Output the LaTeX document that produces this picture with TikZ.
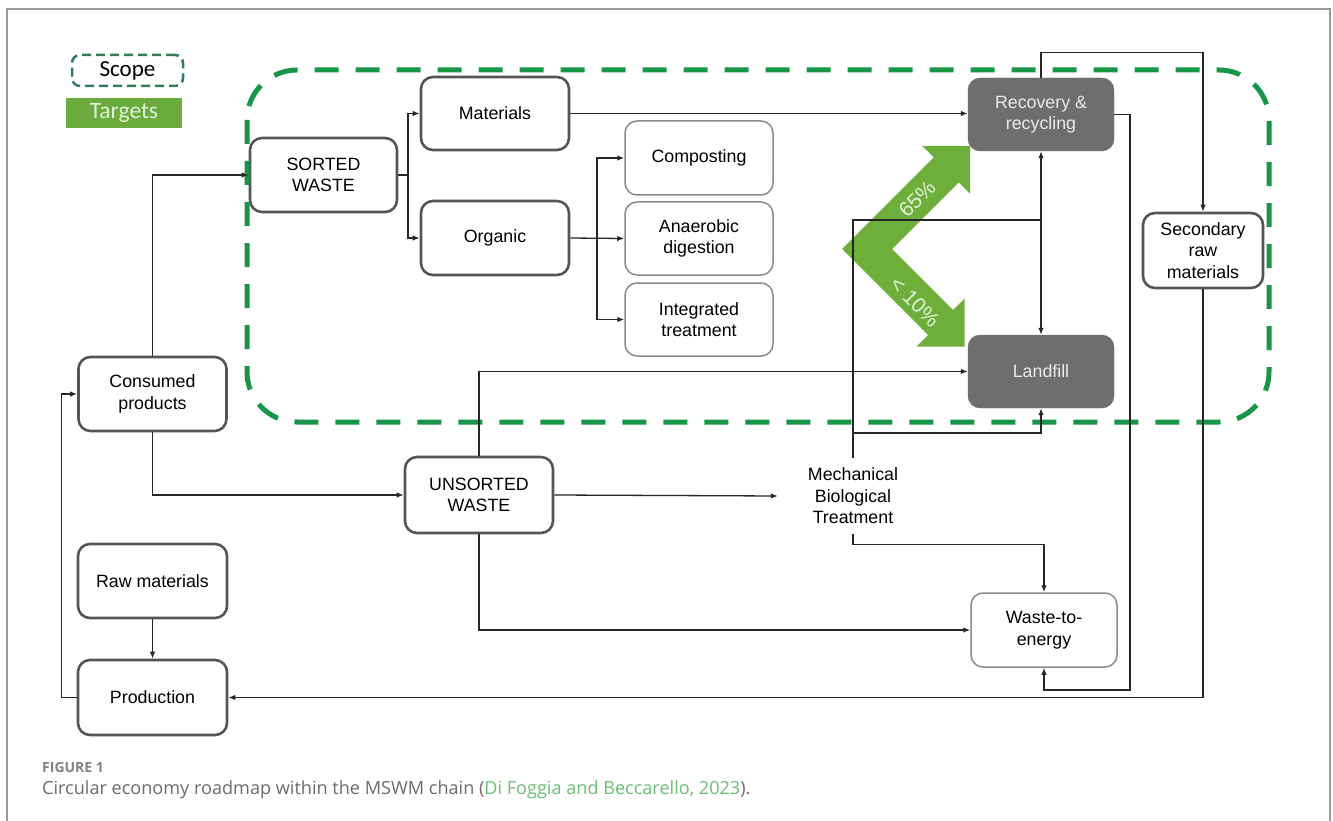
\documentclass[tikz,border=0pt]{standalone}
\usepackage{fontspec}
\setmainfont{Liberation Sans}
\newfontfamily\legendfont{Carlito}
\newfontfamily\capfont{Open Sans}
\usetikzlibrary{arrows.meta,calc}
\definecolor{boxline}{HTML}{555555}
\definecolor{thinline}{HTML}{8A8A8A}
\definecolor{darkfill}{HTML}{6E6E6E}
\definecolor{scopegreen}{RGB}{22,150,70}
\definecolor{legendgreen}{RGB}{50,125,85}
\definecolor{targetgreen}{RGB}{108,172,62}
\definecolor{chevgreen}{RGB}{110,175,60}
\definecolor{chevtext}{RGB}{225,240,215}
\definecolor{linkgreen}{RGB}{108,190,112}
\definecolor{framegray}{HTML}{9A9A9A}
\definecolor{capgray}{HTML}{6B6B6B}
\begin{document}
\begin{tikzpicture}[x=1pt,y=-1pt,
  font=\fontsize{17.8}{21.5}\selectfont,
  thickbox/.style={draw=boxline, line width=2.6pt, rounded corners=12pt, fill=white, align=center, inner sep=0pt},
  thinbox/.style={draw=thinline, line width=1.5pt, rounded corners=12pt, fill=white, align=center, inner sep=0pt},
  darkbox/.style={fill=darkfill, draw=darkfill, rounded corners=12pt, text=black!8, align=center, inner sep=0pt},
  link/.style={draw=black!85, line width=1.3pt, -{Latex[length=7pt,width=5.5pt]}},
  plain/.style={draw=black!85, line width=1.3pt},
  pct/.style={text=chevtext, inner sep=0pt, font=\fontsize{21}{22}\selectfont},
]
\useasboundingbox (0,0) rectangle (1333,821);
\fill[white] (0,0) rectangle (1333,821);
% frame
\draw[framegray, line width=1.5pt] (7,821) -- (7,9) -- (1330,9) -- (1330,821);

% legend
\node[draw=legendgreen, dash pattern=on 9pt off 5pt, line width=2.5pt, rounded corners=8pt,
      minimum width=111pt, minimum height=31pt, inner sep=0pt,
      font=\legendfont\fontsize{23}{26}\selectfont] (scope) at (127.5,70.5) {Scope};
\node[fill=targetgreen, minimum width=116pt, minimum height=30pt, inner sep=0pt, text=chevtext,
      font=\legendfont\fontsize{23.5}{26}\selectfont] (targets) at (124,113) {Targets};

% green chevron (targets)
\fill[chevgreen] (842,249) -- (933.7,157.3) -- (922.2,145.8) -- (970.2,145.8) -- (970.2,193.8)
  -- (958.7,182.3) -- (892,249) -- (953,310) -- (964.5,298.5) -- (964.6,346.6)
  -- (916.5,346.5) -- (928,335) -- cycle;
\node[pct, rotate=45] (p65) at (917,199) {65\%};
\node[pct, rotate=-45] (p10) at (915,302) {<~10\%};

% boxes
\node[thickbox, minimum width=147pt, minimum height=74pt] (sorted) at (323.5,175) {SORTED\\WASTE};
\node[thickbox, minimum width=148pt, minimum height=73pt] (mat) at (495,113.5) {Materials};
\node[thickbox, minimum width=148pt, minimum height=74pt] (org) at (495,238) {Organic};
\node[thinbox, minimum width=148pt, minimum height=74pt] (comp) at (699,158) {Composting};
\node[thinbox, minimum width=148pt, minimum height=73pt] (anae) at (699,238.5) {Anaerobic\\digestion};
\node[thinbox, minimum width=148pt, minimum height=73pt] (integ) at (699,319.5) {Integrated\\treatment};
\node[darkbox, minimum width=146pt, minimum height=73pt] (rec) at (1041,114.5) {Recovery \&\\recycling};
\node[darkbox, minimum width=146pt, minimum height=73pt] (land) at (1041,371.5) {Landfill};
\node[thickbox, minimum width=120pt, minimum height=75pt] (sec) at (1203,250.5) {Secondary\\raw\\materials};
\node[thickbox, minimum width=148pt, minimum height=74pt] (cons) at (152.5,394) {Consumed\\products};
\node[thickbox, minimum width=148pt, minimum height=76pt] (uns) at (479,495) {UNSORTED\\WASTE};
\node[thickbox, minimum width=149pt, minimum height=74pt] (raw) at (152.5,581) {Raw materials};
\node[thickbox, minimum width=149pt, minimum height=75pt] (prod) at (152.5,697.5) {Production};
\node[thinbox, minimum width=146pt, minimum height=74pt] (wte) at (1044,630) {Waste-to-\\energy};
\node[align=center, inner sep=0pt, minimum width=150pt, minimum height=75pt] (mbt) at (853,496) {Mechanical\\Biological\\Treatment};

% scope outline
\draw[scopegreen, line width=5pt, dash pattern=on 24pt off 17pt, rounded corners=50pt]
  (247,70) rectangle (1269,422);

% junction coordinates
\coordinate (sb) at (408,175);
\coordinate (ob) at (597,238);
\coordinate (j1) at (1041,220);
\coordinate (j2) at (853,433);
\coordinate (c1) at (1130,690);

% connectors
\draw[plain] (sorted.east) -- (sb);
\draw[link] (sb) |- (mat.west);
\draw[link] (sb) |- (org.west);
\draw[link] (org.east) -- (anae.west);
\draw[link] (ob) |- (comp.west);
\draw[link] (ob) |- (integ.west);
\draw[link] (mat.east) -- (mat.east -| rec.west);
\draw[link] (rec.north) -- ++(0,-25) -| (sec.north);
\draw[link] (rec.east) -| (c1) -| (wte.south);
\draw[link] (sec.south) |- (prod.east);
\draw[link] (prod.west) -- ++(-15,0) |- (cons.west);
\draw[link] (raw.south) -- (prod.north);
\draw[link] (cons.north) |- (sorted.west);
\draw[link] (cons.south) |- (uns.west);
\draw[link] (uns.north) |- (land.west);
\draw[link] (uns.south) |- (wte.west);
\draw[link] (uns.east) -- (mbt.west);
\draw[plain] (mbt.north) |- (j1);
\draw[link] (j1) -- (rec.south);
\draw[link] (j1) -- (land.north);
\draw[link] (j2) -| (land.south);
\draw[link] (mbt.south) -- ++(0,11) -| (wte.north);

% caption
\node[anchor=west, inner sep=0pt, text=capgray!85, font=\capfont\bfseries\fontsize{14}{16}\selectfont] (fig) at (42,767) {FIGURE 1};
\node[anchor=west, inner sep=0pt, text=capgray, font=\capfont\fontsize{18.1}{21}\selectfont] (cap) at (42,790)
  {Circular economy roadmap within the MSWM chain (\textcolor{linkgreen}{Di Foggia and Beccarello, 2023}).};
\end{tikzpicture}
\end{document}
